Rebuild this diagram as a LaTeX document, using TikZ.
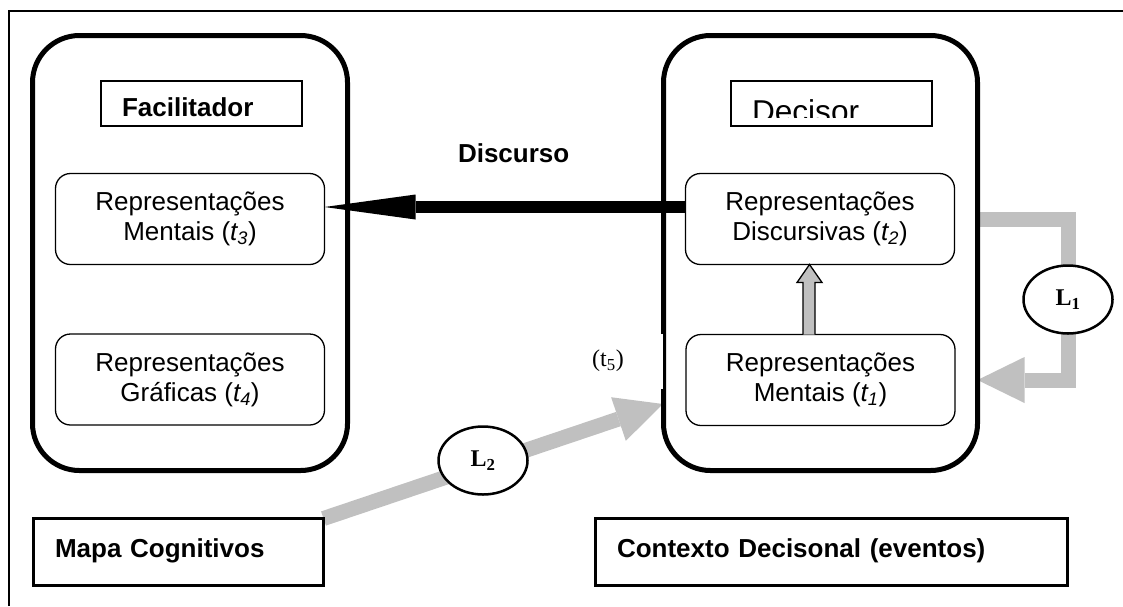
\documentclass[tikz,border=0pt]{standalone}
\usepackage{fontspec}
\setmainfont{Liberation Sans}
\newfontfamily\serifL{Liberation Serif}
\usetikzlibrary{arrows.meta,calc,shapes.geometric,backgrounds}
\definecolor{linkgrey}{RGB}{192,192,192}

\begin{document}
\begin{tikzpicture}[x=1pt,y=-1pt,
  every node/.style={inner sep=0pt, outer sep=0pt},
  bigbox/.style={draw, line width=5pt, rounded corners=47pt,
    minimum width=314pt, minimum height=435pt},
  titlebox/.style={draw, line width=2pt, minimum width=201pt, minimum height=45pt},
  repbox/.style={draw, line width=1.3pt, rounded corners=15pt,
    minimum width=269pt, minimum height=91pt, align=center,
    font=\fontsize{26}{30}\selectfont},
  namebox/.style={draw, line width=3pt, minimum height=67pt, align=left,
    inner xsep=21.5pt, text height=19pt, text depth=9pt,
    font=\bfseries\fontsize{26}{30}\selectfont},
  loopmark/.style={draw, ellipse, line width=2.5pt, fill=white,
    minimum width=89pt, minimum height=68pt,
    font=\serifL\bfseries\fontsize{24}{24}\selectfont},
  greylink/.style={draw=linkgrey, line width=15pt},
  greytip/.style={-{Triangle[length=47pt,width=46pt,line width=0pt]}}
]
\useasboundingbox (0,0) rectangle (1123,606);

% frame
\draw[line width=2pt] (9,606) -- (9,11) -- (1123,11);

% representation boxes
\node[repbox] (t3) at (190,219) {Representações\\Mentais (\textit{t\textsubscript{3}})};
\node[repbox] (t4) at (190,379.5) {Representações\\Gráficas (\textit{t\textsubscript{4}})};
\node[repbox] (t2) at (820,219) {Representações\\Discursivas (\textit{t\textsubscript{2}})};
\node[repbox] (t1) at (820.5,380) {Representações\\Mentais (\textit{t\textsubscript{1}})};

% lower labels
\node[namebox, minimum width=290pt, text width=247pt] (mapa) at (178.5,552) {Mapa Cognitivos};
\node[namebox, minimum width=472pt, text width=429pt] (contexto) at (831.5,552) {Contexto Decisonal (eventos)};

% big containers
\node[bigbox, minimum width=315pt] (facbox) at (190,253) {};
\node[bigbox] (decbox) at (820.5,253) {};
\coordinate (l2tip) at (663,404);

% loops
\node[loopmark] (L1) at (1068,299.5) {L\textsubscript{1}};
\node[loopmark] (L2) at (483,460.5) {L\textsubscript{2}};

\begin{scope}[on background layer]
  \draw[greylink] (decbox.east |- t2) -| (L1.north);
  \draw[greylink, greytip] (L1.south) |- (decbox.east |- t1);
  \draw[greylink, greytip] (mapa.north east) -- (l2tip);
\end{scope}

% time label t5
\node[fill=white, minimum width=110pt, minimum height=55pt,
  font=\serifL\fontsize{24}{24}\selectfont] (t5) at (608,361) {(t\textsubscript{5})};

% titles
\node[titlebox, text width=159pt, inner xsep=21pt, align=left,
  text height=25pt, text depth=0pt, font=\bfseries\fontsize{26}{30}\selectfont]
  (facil) at (201.5,103.5) {Facilitador};
\node[titlebox] (decisor) at (831.5,103.5) {};
\begin{scope}
  \clip (731,81) rectangle (932,117);
  \node[anchor=base west, font=\fontsize{31.6}{34}\selectfont] (decisortxt) at (752,122.6) {Decisor};
\end{scope}

% discourse arrow
\draw[line width=12pt, -{Triangle[length=91pt,width=25pt,line width=0pt]}]
  ($(t2.west)+(0,-12)$) -- ($(t3.east)+(0,-12)$);
\node[anchor=base west, font=\bfseries\fontsize{26}{30}\selectfont] (discurso) at (458,162) {Discurso};

% block arrow t1 -> t2
\draw[fill=linkgrey, line width=1.3pt]
  ($(t1.north)+(-17.5,0)$) -- ($(t1.north)+(-17.5,-52)$) -- ($(t1.north)+(-23.5,-52)$)
  -- ($(t2.south)+(-10.5,0)$)
  -- ($(t1.north)+(1.5,-52)$) -- ($(t1.north)+(-5.5,-52)$) -- ($(t1.north)+(-5.5,0)$);
\end{tikzpicture}
\end{document}
